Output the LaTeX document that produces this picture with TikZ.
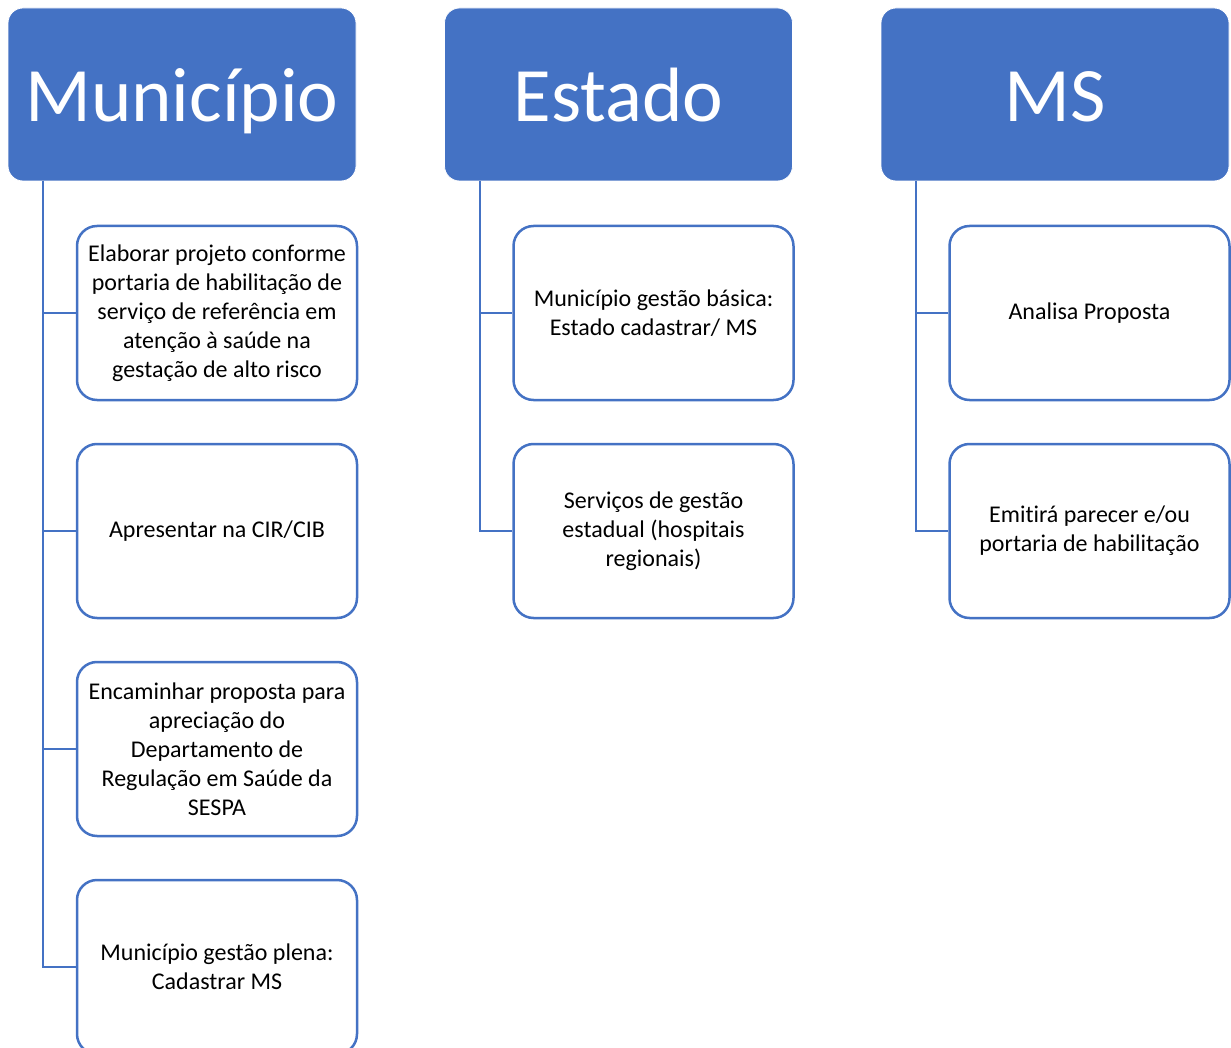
\documentclass[tikz,border=0pt]{standalone}
\usepackage{fontspec}
\setmainfont{Carlito}[Ligatures=NoCommon]
\definecolor{headblue}{HTML}{4472C4}

\begin{document}
\begin{tikzpicture}[x=1pt,y=-1pt,
  head node/.style={rectangle,rounded corners=15pt,fill=headblue,draw=white,thick,minimum width=348pt,minimum height=173pt,text height=55pt,text depth=0pt,text=white,font=\fontsize{77}{90}\selectfont},
  item node/.style={rectangle,rounded corners=20pt,draw=headblue,line width=2.5pt,fill=white,minimum width=280pt,minimum height=174pt,align=center,font=\fontsize{24}{29}\selectfont},
  link/.style={headblue,line width=2.5pt}]
  \useasboundingbox (0,0) rectangle (1231,1048);

  \node[head node] (mun) at (182,94.5) {Município};
  \node[head node] (est) at (618.5,94.5) {Estado};
  \node[head node] (ms) at (1055,94.5) {MS};

  \node[item node] (mun1) at (217,313) {Elaborar projeto conforme\\portaria de habilitação de\\serviço de referência em\\atenção à saúde na\\gestação de alto risco};
  \node[item node] (mun2) at (217,531) {Apresentar na CIR/CIB};
  \node[item node] (mun3) at (217,749) {Encaminhar proposta para\\apreciação do\\Departamento de\\Regulação em Saúde da\\SESPA};
  \node[item node] (mun4) at (217,967) {Município gestão plena:\\Cadastrar MS};
  \node[item node] (est1) at (653.5,313) {Município gestão básica:\\Estado cadastrar/ MS};
  \node[item node] (est2) at (653.5,531) {Serviços de gestão\\estadual (hospitais\\regionais)};
  \node[item node] (ms1) at (1089.5,313) {Analisa Proposta};
  \node[item node] (ms2) at (1089.5,531) {Emitirá parecer e/ou\\portaria de habilitação};

  \coordinate (munT) at (43,181);
  \coordinate (estT) at (480,181);
  \coordinate (msT) at (916,181);
 \draw[link] (munT) |- (mun1.west);
 \draw[link] (munT) |- (mun2.west);
 \draw[link] (munT) |- (mun3.west);
 \draw[link] (munT) |- (mun4.west);
 \draw[link] (estT) |- (est1.west);
 \draw[link] (estT) |- (est2.west);
 \draw[link] (msT) |- (ms1.west);
 \draw[link] (msT) |- (ms2.west);
\end{tikzpicture}
\end{document}
